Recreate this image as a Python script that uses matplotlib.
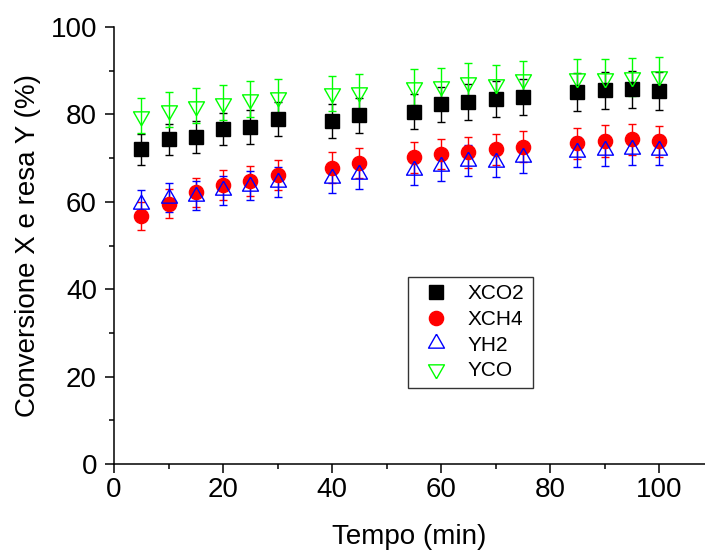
import matplotlib
matplotlib.use("Agg")
import matplotlib.pyplot as plt
from matplotlib.ticker import MultipleLocator

plt.rcParams['font.family'] = ['Liberation Sans', 'DejaVu Sans']

tempo = [5, 10, 15, 20, 25, 30, 40, 45, 55, 60, 65, 70, 75, 85, 90, 95, 100]

xco2 = [72.0, 74.3, 74.8, 76.6, 77.1, 78.9, 78.4, 79.8, 80.6, 82.3, 82.8, 83.5, 83.9, 85.1, 85.5, 85.7, 85.3]
xco2_err = [3.6, 3.6, 3.7, 3.7, 3.8, 3.9, 3.9, 4.0, 4.0, 4.0, 4.1, 4.1, 4.1, 4.3, 4.3, 4.3, 4.3]

xch4 = [56.8, 59.6, 62.2, 63.8, 64.8, 66.1, 67.8, 68.9, 70.2, 70.9, 71.3, 72.0, 72.6, 73.4, 73.9, 74.3, 73.8]
xch4_err = [3.2, 3.3, 3.3, 3.4, 3.4, 3.4, 3.5, 3.5, 3.5, 3.5, 3.5, 3.6, 3.6, 3.6, 3.6, 3.6, 3.6]

yh2 = [59.4, 60.9, 61.4, 62.6, 63.7, 64.6, 65.4, 66.4, 67.3, 68.2, 69.4, 69.2, 70.2, 71.4, 71.8, 72.0, 71.9]
yh2_err = [3.3, 3.3, 3.3, 3.3, 3.4, 3.4, 3.4, 3.4, 3.4, 3.4, 3.5, 3.5, 3.5, 3.5, 3.5, 3.5, 3.5]

yco = [79.7, 81.1, 82.0, 82.7, 83.5, 83.9, 84.8, 85.1, 86.3, 86.5, 87.5, 87.0, 88.0, 88.4, 88.4, 88.6, 88.8]
yco_err = [4.0, 4.0, 4.0, 4.0, 4.1, 4.1, 4.1, 4.2, 4.2, 4.2, 4.2, 4.2, 4.2, 4.2, 4.3, 4.3, 4.3]

labels = ["XCO2", "XCH4", "YH2", "YCO"]

# triangles centred on their centroid (Origin style)
tri_up = [(0, 1), (-0.855, -0.5), (0.855, -0.5), (0, 1)]
tri_dn = [(0, -1), (-0.855, 0.5), (0.855, 0.5), (0, -1)]

fig = plt.figure(figsize=(7.05, 5.52), dpi=100)
ax = fig.add_axes([114 / 705, 1 - 464 / 552, 1 - 114 / 705, 437 / 552])

common = dict(linestyle='none', capsize=3.2, elinewidth=1.0, capthick=1.0)
ax.errorbar(tempo, xco2, yerr=xco2_err, marker='s', ms=9.4, mfc='black', mec='black',
            ecolor='black', label=labels[0], **common)
ax.errorbar(tempo, xch4, yerr=xch4_err, marker='o', ms=10.2, mfc='#ff0000', mec='#ff0000',
            ecolor='#ff0000', label=labels[1], **common)
ax.errorbar(tempo, yh2, yerr=yh2_err, marker=tri_up, ms=13.4, mfc='none', mec='#0000ff', mew=1.0,
            ecolor='#0000ff', label=labels[2], **common)
ax.errorbar(tempo, yco, yerr=yco_err, marker=tri_dn, ms=13.4, mfc='none', mec='#00ff00', mew=1.0,
            ecolor='#00ff00', label=labels[3], **common)

ax.set_xlim(0, 108.4)
ax.set_ylim(0, 100)
ax.xaxis.set_major_locator(MultipleLocator(20))
ax.xaxis.set_minor_locator(MultipleLocator(10))
ax.yaxis.set_major_locator(MultipleLocator(20))
ax.yaxis.set_minor_locator(MultipleLocator(10))

for s in ['top', 'right']:
    ax.spines[s].set_visible(False)
for s in ['left', 'bottom']:
    ax.spines[s].set_linewidth(1.1)

ax.tick_params(which='major', direction='out', length=6.3, width=1.1, labelsize=20)
ax.tick_params(which='minor', direction='out', length=3.4, width=1.1)
ax.tick_params(axis='x', which='major', pad=3)
ax.tick_params(axis='y', which='major', pad=6)

ax.set_xlabel("Tempo (min)", fontsize=20, labelpad=15)
ax.set_ylabel("Conversione X e resa Y (%)", fontsize=20, labelpad=6.5)

handles, lbls = ax.get_legend_handles_labels()
handles = [h[0] for h in handles]
leg = ax.legend(handles, lbls, loc='lower left', bbox_to_anchor=(0.498, 0.1746, 0.2115, 0.2556),
                mode='expand', fontsize=15, frameon=True, fancybox=False, borderpad=0.35,
                labelspacing=0.32, handletextpad=0.5, handlelength=2.0, borderaxespad=0)
leg.get_frame().set_edgecolor('black')
leg.get_frame().set_linewidth(1.0)

fig.savefig("out.png", dpi=100)
